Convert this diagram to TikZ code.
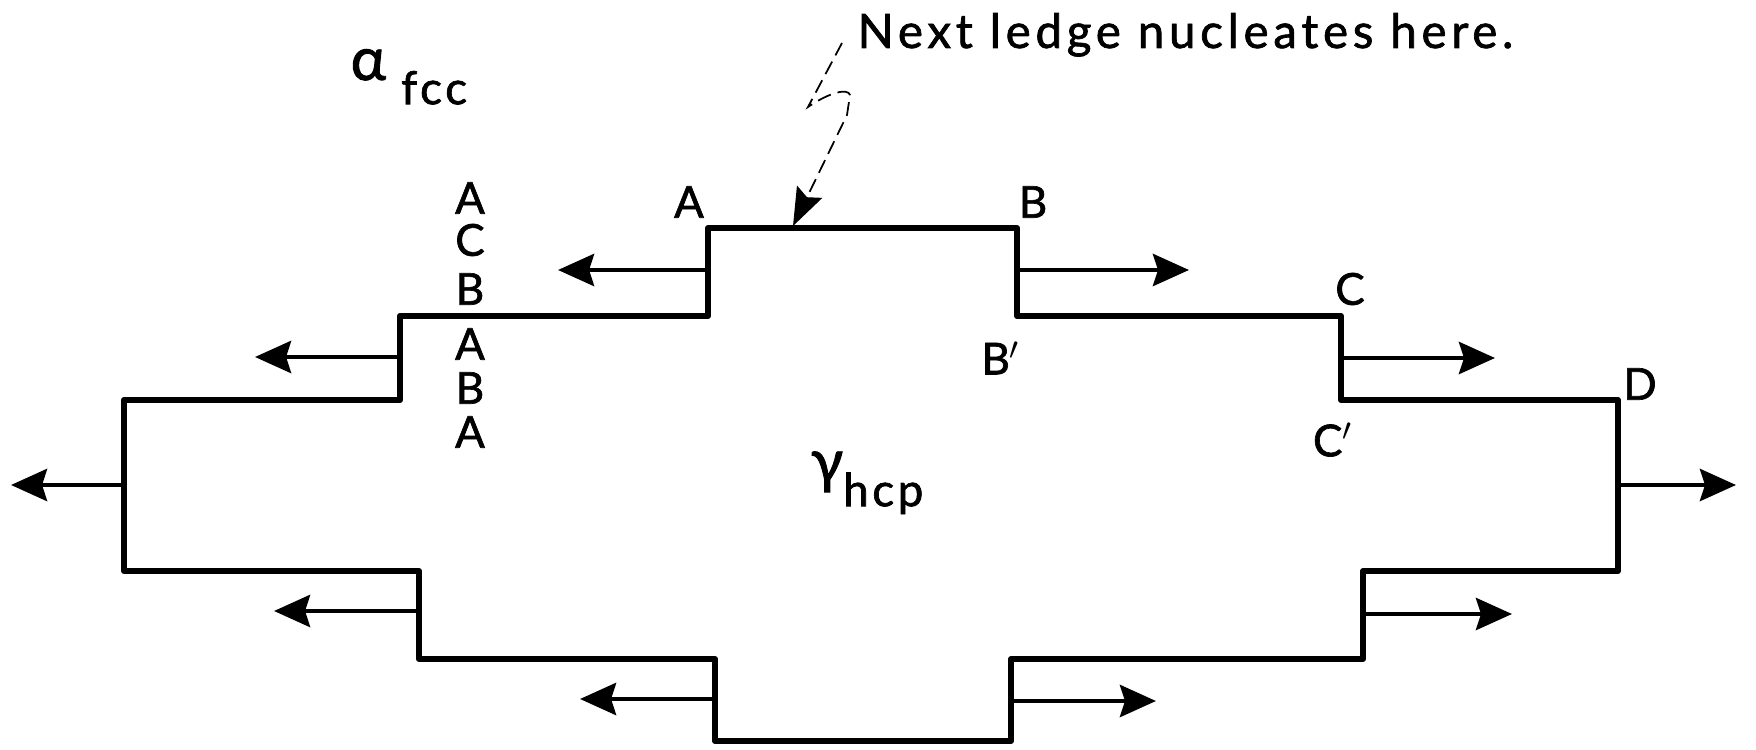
\documentclass[tikz,border=0pt]{standalone}
\usepackage{fontspec}
\setmainfont{Lato}[FakeBold=1.5]
\usetikzlibrary{arrows.meta}
\tikzset{
  grain/.style   = {line width=1.7pt, line join=round},
  growth/.style  = {line width=1.4pt, -{Stealth[length=3.6mm, width=3.2mm, inset=0.5mm]}},
  stack/.style   = {font=\fontsize{12.5}{12.5}\selectfont, inner sep=0pt},
  phase/.style   = {font=\fontsize{17}{17}\selectfont, inner sep=0pt},
  note/.style    = {font=\fontsize{13.5}{13.5}\selectfont\addfontfeature{LetterSpace=10}, inner sep=0pt},
  leader/.style  = {line width=0.5pt, dash pattern=on 4pt off 2pt,
                    -{Stealth[length=3.8mm, width=2.8mm, inset=0.6mm]}},
}
\newcommand{\phasesub}[1]{\raisebox{-0.8ex}{\fontsize{13}{13}\selectfont\addfontfeature{LetterSpace=8}#1}}
\begin{document}
\begin{tikzpicture}[x=0.1mm, y=-0.1mm]
  \useasboundingbox (0,0) rectangle (1756,750);
  % interface of the hcp plate
  \draw[grain] (124,571) -- (124,400) -- (400,400) -- (400,316) -- (708,316)
    -- (708,228) -- (1017,228) -- (1017,316) -- (1341,316) -- (1341,400)
    -- (1618,400) -- (1618,571) -- (1363,571) -- (1363,659) -- (1011,659)
    -- (1011,741) -- (715,741) -- (715,659) -- (419,659) -- (419,571) -- cycle;

  % ledge positions
  \coordinate (ledgeA)  at (708,270);
  \coordinate (ledgeB)  at (1017,270);
  \coordinate (ledgeL)  at (400,357);
  \coordinate (ledgeC)  at (1341,358);
  \coordinate (sideL)   at (124,485);
  \coordinate (sideR)   at (1618,485);
  \coordinate (lowL)    at (419,611);
  \coordinate (lowR)    at (1363,614);
  \coordinate (baseL)   at (715,699);
  \coordinate (baseR)   at (1011,701);

  \draw[growth] (ledgeA) -- ++(-150,0);
  \draw[growth] (ledgeB) -- ++(172,0);
  \draw[growth] (ledgeL) -- ++(-145,0);
  \draw[growth] (ledgeC) -- ++(154,0);
  \draw[growth] (sideL)  -- ++(-113,0);
  \draw[growth] (sideR)  -- ++(118,0);
  \draw[growth] (lowL)   -- ++(-145,0);
  \draw[growth] (lowR)   -- ++(149,0);
  \draw[growth] (baseL)  -- ++(-135,0);
  \draw[growth] (baseR)  -- ++(145,0);

  % stacking labels
  \node[stack] (s1) at (470,198) {A};
  \node[stack] (s2) at (470,240) {C};
  \node[stack] (s3) at (470,289) {B};
  \node[stack] (s4) at (470,344) {A};
  \node[stack] (s5) at (470,388) {B};
  \node[stack] (s6) at (470,432) {A};
  \node[stack] (topA) at (689,202) {A};
  \node[stack] (topB) at (1033,202) {B};
  \node[stack] (midC) at (1350,289) {C};
  \node[stack] (midB) at (1001,358) {B$'$};
  \node[stack] (lowC) at (1333,440) {C$'$};
  \node[stack] (edgD) at (1640,384) {D};

  % phases
  \node[phase, anchor=base west] (fcc) at (350,80) {α\hspace{0.5ex}\phasesub{fcc}};
  \node[phase, anchor=base west] (hcp) at (810,482) {γ\phasesub{hcp}};

  % nucleation note
  \node[note, anchor=base west] (nuc) at (857,48) {Next ledge nucleates here.};
  \coordinate (kink) at (808,107);
  \draw[leader] (842,43) -- (kink) .. controls (830,92) and (848,88) .. (850,95)
    -- (847,115) -- (793,226);
\end{tikzpicture}
\end{document}
